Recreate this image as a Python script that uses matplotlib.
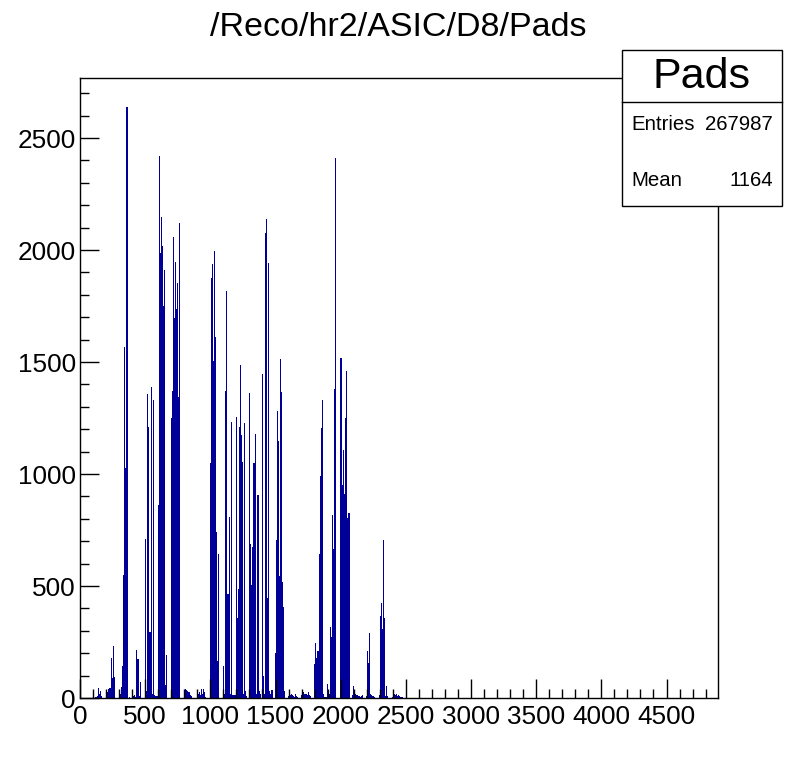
import numpy as np
import matplotlib
matplotlib.use("Agg")
import matplotlib.pyplot as plt
from matplotlib.patches import Rectangle
from matplotlib.ticker import MultipleLocator

# ---------------- data ----------------
title = "/Reco/hr2/ASIC/D8/Pads"
stats_name = "Pads"
stats_labels = ["Entries", "Mean"]
stats_values = ["267987", "1164"]

x_min, x_max = 0, 4895
y_max = 2768
bin_width = 4895 / 638.0   # one displayed column of the histogram

# bin contents, consecutive bins of width bin_width starting at 0
counts = [
    # 0-14
    0, 0, 0, 0, 0, 0, 0, 0, 0, 0, 0, 0, 0, 0, 0,
    # 15-21
    5, 5, 8, 45, 20, 30, 8,
    # 22-25
    0, 0, 0, 0,
    # 26-34
    10, 25, 40, 45, 45, 180, 90, 231, 95,
    # 35-38
    0, 0, 0, 0,
    # 39-47
    8, 20, 50, 145, 548, 1567, 1028, 2637, 2637,
    # 48-51
    0, 5, 0, 0,
    # 52-60
    5, 10, 15, 5, 215, 175, 175, 10, 70,
    # 61-64
    0, 0, 0, 0,
    # 65-79
    709, 30, 1357, 1208, 294, 294, 1389, 20, 1329, 15, 10, 10, 10, 860, 2418,
    # 80-86
    1985, 2148, 2020, 1749, 1912, 60, 194,
    # 87-90
    0, 0, 0, 0,
    # 91-99
    1250, 1370, 2060, 1695, 1946, 1735, 1855, 1345, 2120,
    # 100-103
    0, 0, 0, 0,
    # 104-112
    20, 40, 35, 30, 25, 25, 15, 10, 0,
    # 113-116
    0, 0, 0, 0,
    # 117-125
    15, 20, 25, 15, 40, 20, 40, 25, 5,
    # 126-129
    0, 0, 0, 0,
    # 130-138
    1050, 1875, 1937, 1505, 1995, 1610, 740, 165, 645,
    # 139-142
    0, 0, 0, 0,
    # 143-159
    145, 20, 1372, 1815, 465, 465, 810, 20, 1234, 15, 15, 15, 15, 1256, 357, 486, 1210,
    # 160-168
    1485, 1175, 1054, 20, 1226, 30, 10, 0, 0,
    # 169-181
    1361, 686, 504, 674, 1051, 1051, 1180, 20, 907, 907, 30, 20, 0,
    # 182-192
    1448, 96, 20, 2077, 2137, 445, 1940, 30, 20, 35, 35,
    # 193-194
    0, 0,
    # 195-204
    200, 706, 1282, 1146, 545, 1513, 1366, 517, 405, 30,
    # 205-207
    0, 0, 0,
    # 208-218
    10, 25, 15, 20, 15, 10, 5, 20, 10, 5, 0,
    # 219-220
    0, 0,
    # 221-231
    15, 20, 25, 20, 20, 20, 15, 25, 15, 10, 0,
    # 232-233
    0, 0,
    # 234-239
    150, 246, 178, 212, 210, 645,
    # 240-255
    990, 1205, 1331, 20, 5, 5, 5, 64, 10, 20, 316, 271, 815, 664, 1379, 2410,
    # 256-259
    0, 0, 0, 0,
    # 260-269
    1518, 1518, 949, 1107, 911, 1252, 1462, 805, 825, 825,
    # 270-271
    0, 0,
    # 272-284
    15, 52, 15, 20, 15, 15, 10, 10, 5, 10, 15, 0, 0,
    # 285-295
    0, 10, 212, 158, 292, 20, 15, 10, 10, 5, 0,
    # 296-298
    0, 0, 0,
    # 299-307
    15, 368, 423, 310, 706, 357, 10, 55, 10,
    # 308-311
    0, 0, 0, 0,
    # 312-322
    5, 10, 20, 15, 20, 10, 15, 10, 5, 5, 5,
]

# ---------------- figure ----------------
W, H = 798, 776
fig = plt.figure(figsize=(W / 100, H / 100), dpi=100)
fig.patch.set_facecolor("white")
font = ["Liberation Sans", "DejaVu Sans"]

def fx(px):
    return px / W

def fy(py):
    return 1 - py / H

ax = fig.add_axes([fx(80), fy(698), fx(718) - fx(80), fy(78) - fy(698)])

edges = np.arange(len(counts) + 1) * bin_width
ax.stairs(counts, edges, fill=True, color="#000099", linewidth=0)

ax.set_xlim(x_min, x_max)
ax.set_ylim(0, y_max)

ax.xaxis.set_major_locator(MultipleLocator(500))
ax.xaxis.set_minor_locator(MultipleLocator(100))
ax.yaxis.set_major_locator(MultipleLocator(500))
ax.yaxis.set_minor_locator(MultipleLocator(100))
ax.set_xticks(np.arange(0, 4501, 500))
ax.set_xticklabels([str(v) for v in range(0, 4501, 500)])
ax.set_yticks(np.arange(0, 2501, 500))
ax.set_yticklabels([str(v) for v in range(0, 2501, 500)])

ax.tick_params(which="both", direction="in", top=False, right=False,
               colors="black", width=1)
ax.tick_params(which="major", length=13.5)
ax.tick_params(which="minor", length=6.8)
ax.tick_params(axis="x", which="major", pad=5)
ax.tick_params(axis="y", which="major", pad=3)
for lab in ax.get_xticklabels() + ax.get_yticklabels():
    lab.set_fontfamily(font)
    lab.set_fontsize(18.8)
for sp in ax.spines.values():
    sp.set_linewidth(1)
    sp.set_color("black")

# title
fig.text(fx(398), fy(28), title, ha="center", va="center",
         fontsize=24.5, family=font)

# stats box
box = Rectangle((fx(622), fy(206)), fx(782) - fx(622), fy(50) - fy(206),
                transform=fig.transFigure, facecolor="white",
                edgecolor="black", linewidth=1, zorder=5)
fig.add_artist(box)
fig.add_artist(plt.Line2D([fx(622), fx(782)], [fy(102), fy(102)],
                          transform=fig.transFigure, color="black",
                          linewidth=1, zorder=6))
fig.text(fx(702), fy(77), stats_name, ha="center", va="center",
         fontsize=31, family=font, zorder=7)
rows_y = [124, 181]
for lab, val, yy in zip(stats_labels, stats_values, rows_y):
    fig.text(fx(631), fy(yy), lab, ha="left", va="center",
             fontsize=14.7, family=font, zorder=7)
    fig.text(fx(773), fy(yy), val, ha="right", va="center",
             fontsize=14.7, family=font, zorder=7)

fig.savefig("out.png", dpi=100)
